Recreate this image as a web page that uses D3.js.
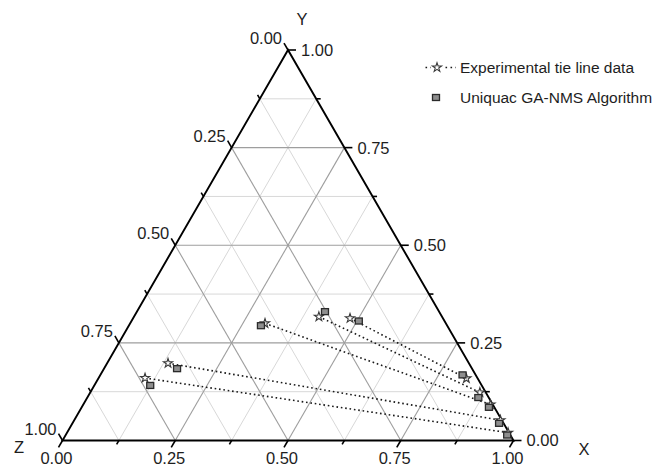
<!DOCTYPE html>
<html>
<head>
<meta charset="utf-8">
<script src="https://cdn.jsdelivr.net/npm/d3@7"></script>
<style>
  html, body { margin: 0; padding: 0; background: #fff; }
  svg { display: block; font-family: "Liberation Sans", Arial, sans-serif; }
</style>
</head>
<body>
<svg id="chart" width="657" height="466"></svg>
<script>
// Ternary tie-line diagram: compositions as [X, Y, Z] mole fractions.
const majorTicks = [0, 0.25, 0.5, 0.75, 1];
const minorTicks = [0.125, 0.375, 0.625, 0.875];
const axisNames = ["X", "Y", "Z"];
const legendLabels = ["Experimental tie line data", "Uniquac GA-NMS Algorithm"];

// Experimental tie lines: Z-rich phase end and X-rich phase end
const expZPhase = [
  [0.103, 0.160, 0.737],
  [0.135, 0.198, 0.667],
  [0.299, 0.300, 0.401],
  [0.410, 0.317, 0.273],
  [0.481, 0.313, 0.206]
];
const expXPhase = [
  [0.978, 0.020, 0.002],
  [0.945, 0.052, 0.003],
  [0.903, 0.092, 0.005],
  [0.864, 0.123, 0.013],
  [0.816, 0.159, 0.025]
];
// UNIQUAC (GA-NMS) calculated compositions
const calcZPhase = [
  [0.124, 0.141, 0.735],
  [0.162, 0.184, 0.654],
  [0.293, 0.294, 0.413],
  [0.417, 0.330, 0.253],
  [0.504, 0.306, 0.190]
];
const calcXPhase = [
  [0.979, 0.014, 0.007],
  [0.946, 0.044, 0.010],
  [0.903, 0.085, 0.012],
  [0.867, 0.110, 0.023],
  [0.803, 0.168, 0.029]
];

const svg = d3.select("#chart");
const ink = "#1e1e1e";

// Bottom edge runs Z-vertex -> X-vertex, vertical scale follows Y.
const xs = d3.scaleLinear().domain([0, 1]).range([62.5, 513.5]);
const ys = d3.scaleLinear().domain([0, 1]).range([440.5, 50]);
const pt = (X, Y) => [xs(X + Y / 2), ys(Y)];
const fmt = d3.format(".2f");
const line = d3.line();

// Grid lines for each component
function gridSegments(v) {
  return [
    [pt(0, v), pt(1 - v, v)],          // constant Y
    [pt(v, 0), pt(v, 1 - v)],          // constant X
    [pt(0, 1 - v), pt(1 - v, 0)]       // constant Z
  ];
}
const grid = svg.append("g");
minorTicks.forEach(v => gridSegments(v).forEach(s =>
  grid.append("path").attr("d", line(s)).attr("stroke", "#d8d8d8").attr("stroke-width", 1).attr("fill", "none")));
majorTicks.filter(v => v > 0 && v < 1).forEach(v => gridSegments(v).forEach(s =>
  grid.append("path").attr("d", line(s)).attr("stroke", "#9e9e9e").attr("stroke-width", 1.1).attr("fill", "none")));

// Triangle frame
const frame = [pt(0, 0), pt(1, 0), pt(0, 1)];
svg.append("path").attr("d", line(frame) + "Z")
  .attr("fill", "none").attr("stroke", "#000").attr("stroke-width", 1.9).attr("stroke-linejoin", "miter");

// Ticks: each extends its grid line outward
const c60 = 0.5, s60 = Math.sqrt(3) / 2;
const axes = [
  { pos: v => pt(v, 0), dir: [-c60, s60] },          // X along bottom
  { pos: v => pt(1 - v, v), dir: [1, 0] },          // Y along right
  { pos: v => pt(0, 1 - v), dir: [-c60, -s60] }     // Z along left
];
const ticks = svg.append("g").attr("stroke", "#000").attr("stroke-width", 1.6);
axes.forEach(a => {
  majorTicks.forEach(v => {
    const p = a.pos(v);
    ticks.append("line").attr("x1", p[0]).attr("y1", p[1])
      .attr("x2", p[0] + a.dir[0] * 8).attr("y2", p[1] + a.dir[1] * 8);
  });
  minorTicks.forEach(v => {
    const p = a.pos(v);
    ticks.append("line").attr("x1", p[0]).attr("y1", p[1])
      .attr("x2", p[0] + a.dir[0] * 4.5).attr("y2", p[1] + a.dir[1] * 4.5);
  });
});

// Tick labels
const labels = svg.append("g").attr("font-size", 16.5).attr("fill", ink);
majorTicks.forEach(v => {
  let p = axes[0].pos(v);
  labels.append("text").attr("x", p[0] - 6).attr("y", 463.5)
    .attr("text-anchor", "middle").text(fmt(v));
  p = axes[1].pos(v);
  labels.append("text").attr("x", p[0] + 13).attr("y", p[1]).attr("dy", "0.36em")
    .attr("text-anchor", "start").text(fmt(v));
  p = axes[2].pos(v);
  labels.append("text").attr("x", p[0] - 4 - 2).attr("y", p[1] - 7 + 1)
    .attr("text-anchor", "end").text(fmt(v));
});

// Axis titles
labels.append("text").attr("x", 584).attr("y", 455).attr("text-anchor", "middle").text(axisNames[0]);
labels.append("text").attr("x", 302).attr("y", 24.5).attr("text-anchor", "middle").text(axisNames[1]);
labels.append("text").attr("x", 19).attr("y", 453).attr("text-anchor", "middle").text(axisNames[2]);

// Tie lines through experimental points
const tie = svg.append("g");
expZPhase.forEach((a, i) => {
  const b = expXPhase[i];
  tie.append("path").attr("d", line([pt(a[0], a[1]), pt(b[0], b[1])]))
    .attr("fill", "none").attr("stroke", "#1a1a1a").attr("stroke-width", 1.6)
    .attr("stroke-dasharray", "1.6 2.8");
});

const star = d3.symbol().type(d3.symbolStar).size(26);
function drawStar(g, x, y) {
  g.append("path").attr("d", star()).attr("transform", `translate(${x},${y})`)
    .attr("fill", "#fff").attr("stroke", "#3a3a3a").attr("stroke-width", 1.1);
}
function drawSquare(g, x, y) {
  g.append("rect").attr("x", x - 3.5).attr("y", y - 3).attr("width", 7).attr("height", 6)
    .attr("fill", "#8e8e8e").attr("stroke", "#2a2a2a").attr("stroke-width", 1.3);
}

const marks = svg.append("g");
expZPhase.concat(expXPhase).forEach(d => { const p = pt(d[0], d[1]); drawStar(marks, p[0], p[1]); });
calcZPhase.concat(calcXPhase).forEach(d => { const p = pt(d[0], d[1]); drawSquare(marks, p[0], p[1]); });

// Legend
const legend = svg.append("g").attr("font-size", 15.5).attr("fill", ink);
legend.append("line").attr("x1", 425.5).attr("x2", 456).attr("y1", 67.5).attr("y2", 67.5)
  .attr("stroke", "#1a1a1a").attr("stroke-width", 1.6).attr("stroke-dasharray", "1.6 3.4");
legend.append("rect").attr("x", 431).attr("y", 62).attr("width", 12).attr("height", 11).attr("fill", "#fff");
drawStar(legend, 437, 67.5);
legend.append("text").attr("x", 460).attr("y", 73).text(legendLabels[0]);
drawSquare(legend, 436, 97.5);
legend.append("text").attr("x", 460).attr("y", 102.5).text(legendLabels[1]);
</script>
</body>
</html>
